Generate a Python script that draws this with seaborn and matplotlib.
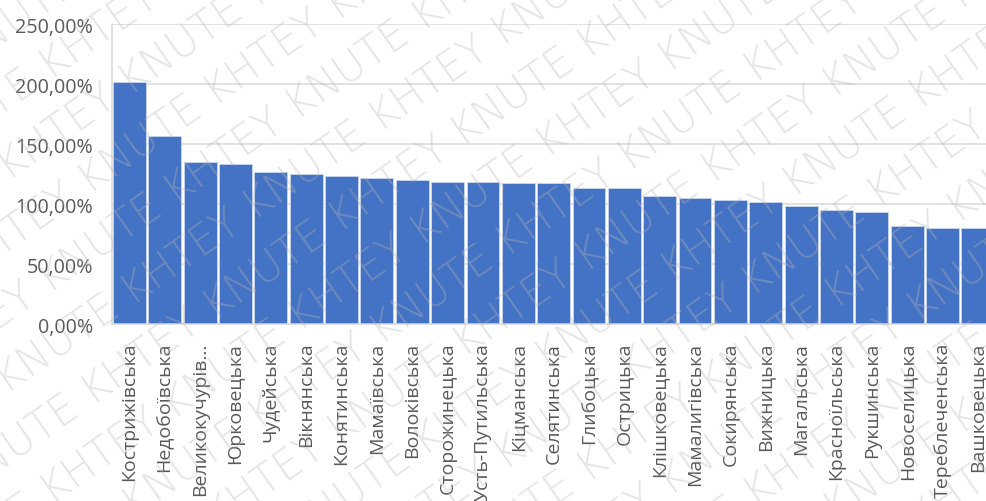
import matplotlib
matplotlib.use("Agg")
import matplotlib.pyplot as plt
import seaborn as sns
import pandas as pd
import numpy as np
from matplotlib.ticker import FixedLocator, FuncFormatter

categories = ["Кострижівська", "Недобоївська", "Великокучурів...", "Юрковецька",
              "Чудейська", "Вікнянська", "Конятинська", "Мамаївська", "Волоківська",
              "Сторожинецька", "Усть-Путильська", "Кіцманська", "Селятинська",
              "Глибоцька", "Острицька", "Клішковецька", "Мамалигівська",
              "Сокирянська", "Вижницька", "Магальська", "Красноїльська",
              "Рукшинська", "Новоселицька", "Тереблеченська", "Вашковецька"]
values = [202.2, 157.2, 135.5, 133.8, 127.2, 125.5, 123.8, 122.2, 120.5,
          118.8, 118.8, 117.5, 117.5, 113.9, 113.9, 107.2, 105.5, 103.8,
          102.2, 98.8, 95.5, 93.8, 82.2, 80.5, 80.5]
y_ticks = [0, 50, 100, 150, 200, 250]

sns.set_theme(style="white")
plt.rcParams['font.family'] = ['Open Sans', 'DejaVu Sans']

W, H = 987, 502
fig = plt.figure(figsize=(W / 100, H / 100), dpi=100)
ax_left = 111.8 / W
ax_bottom = (H - 325.3) / H
ax_top = (H - 25.3) / H
ax = fig.add_axes([ax_left, ax_bottom, 1.0 - ax_left, ax_top - ax_bottom])

df = pd.DataFrame({"cat": categories, "val": values})
sns.barplot(data=df, x="cat", y="val", color="#4472C4", saturation=1,
            width=0.93, edgecolor="#c9d6ef", linewidth=0.6, ax=ax, zorder=2)

ax.set_xlim(-0.5, 24.26)
ax.set_ylim(0, 250)
ax.yaxis.set_major_locator(FixedLocator(y_ticks))
ax.yaxis.set_major_formatter(FuncFormatter(lambda v, p: f"{v:.2f}".replace('.', ',') + '%'))
ax.grid(axis='y', color='#d9d9d9', linewidth=1.1, zorder=0)
ax.set_axisbelow(True)
ax.set_xlabel("")
ax.set_ylabel("")
for s in ["top", "right"]:
    ax.spines[s].set_visible(False)
ax.spines["left"].set_color("#d9d9d9")
ax.spines["left"].set_linewidth(1.1)
ax.spines["bottom"].set_color("#d9d9d9")
ax.spines["bottom"].set_linewidth(1.1)
ax.tick_params(axis='y', length=0, pad=13.5, labelsize=14.2, labelcolor='#595959')
ax.tick_params(axis='x', length=0, pad=12.5, labelsize=14.0, labelcolor='#595959',
               labelrotation=90)
for t in ax.get_xticklabels():
    t.set_va('top')
    t.set_ha('center')

# watermark
ang = 35
wm = "KHTEY KNUTE " * 12
rad = np.deg2rad(ang)
perp = np.array([-np.sin(rad), np.cos(rad)])
dirv = np.array([np.cos(rad), np.sin(rad)])
spacing = 58
for k in range(-16, 16):
    base = np.array([W / 2, H / 2]) + perp * spacing * k + dirv * ((k * 90) % 300 - 900)
    fig.text(base[0] / W, base[1] / H, wm, rotation=ang, rotation_mode='anchor',
             ha='left', va='center', fontsize=30, color=(0.72, 0.72, 0.72),
             alpha=0.36, family=['DejaVu Sans'], fontweight='light', zorder=10)

fig.savefig("out.png", dpi=100)
